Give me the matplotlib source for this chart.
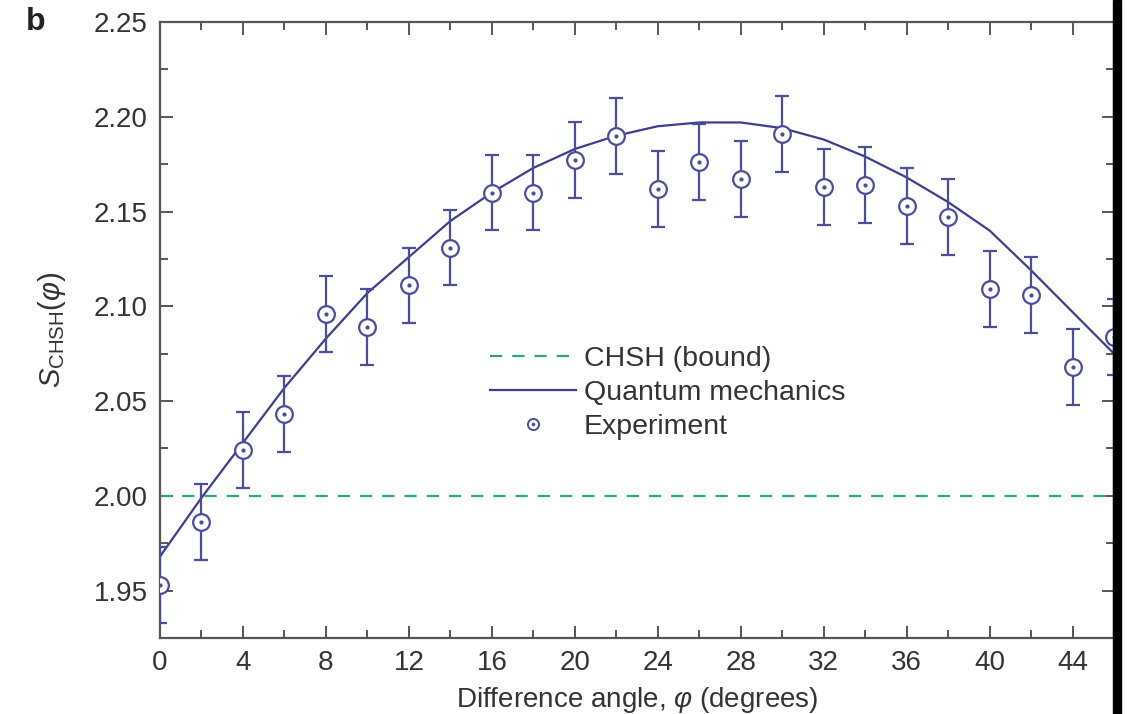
import numpy as np
import matplotlib
matplotlib.use("Agg")
import matplotlib.pyplot as plt
from matplotlib.lines import Line2D
from matplotlib.patches import Rectangle
from matplotlib.ticker import MultipleLocator

plt.rcParams['font.family'] = ['Liberation Sans', 'DejaVu Sans']
plt.rcParams['mathtext.fontset'] = 'custom'
plt.rcParams['mathtext.rm'] = 'Liberation Sans'
plt.rcParams['mathtext.it'] = 'Liberation Sans:italic'

angle_exp = [0, 2, 4, 6, 8, 10, 12, 14, 16, 18, 20, 22, 24, 26, 28, 30, 32, 34, 36, 38, 40, 42, 44, 46]
s_exp = [1.953, 1.986, 2.024, 2.043, 2.096, 2.089, 2.111, 2.131, 2.160, 2.160, 2.177, 2.190,
         2.162, 2.176, 2.167, 2.191, 2.163, 2.164, 2.153, 2.147, 2.109, 2.106, 2.068, 2.084]
s_err = [0.02] * len(angle_exp)

# Quantum mechanics prediction
angle_qm = [0, 2, 4, 6, 8, 10, 12, 14, 16, 18, 20, 22, 24, 26, 28, 30, 32, 34, 36, 38, 40, 42, 44, 46]
s_qm = [1.968, 1.999, 2.028, 2.057, 2.083, 2.107, 2.126, 2.145, 2.160, 2.173, 2.183, 2.190,
        2.195, 2.197, 2.197, 2.194, 2.188, 2.179, 2.168, 2.155, 2.140, 2.119, 2.097, 2.075]

chsh_bound = 2.0

line_col = '#3d3d8f'
err_col = '#4c4c9c'
green = '#2aa77a'
axis_col = '#555555'
text_col = '#333333'

fig = plt.figure(figsize=(11.3, 7.14), dpi=100)
ax = fig.add_axes([160 / 1130, 1 - 638 / 714, (1114 - 160) / 1130, (638 - 22) / 714])

ax.axhline(chsh_bound, color=green, lw=1.6, dashes=(5.5, 4.5), zorder=2)
ax.plot(angle_qm, s_qm, color=line_col, lw=1.6, zorder=3)
ax.errorbar(angle_exp, s_exp, yerr=s_err, fmt='none', ecolor=err_col,
            elinewidth=1.6, capsize=5, capthick=1.6, zorder=4)
ax.plot(angle_exp, s_exp, 'o', ms=12, mfc='white', mec=err_col, mew=1.6, zorder=5)
ax.plot(angle_exp, s_exp, 'o', ms=2, color=err_col, zorder=6)

ax.set_xlim(0, 46)
ax.set_ylim(1.925, 2.25)
ax.xaxis.set_major_locator(MultipleLocator(4))
ax.xaxis.set_minor_locator(MultipleLocator(2))
ax.yaxis.set_major_locator(MultipleLocator(0.05))
ax.yaxis.set_minor_locator(MultipleLocator(0.025))
ax.yaxis.set_major_formatter(matplotlib.ticker.FormatStrFormatter('%.2f'))

ax.tick_params(which='both', direction='in', top=True, right=True, color=axis_col,
               labelcolor=text_col, labelsize=20, width=1.4)
ax.tick_params(which='major', length=9, pad=9)
ax.tick_params(which='minor', length=5.5)
for sp in ax.spines.values():
    sp.set_color(axis_col)
    sp.set_linewidth(1.6)

ax.set_xlabel(r'Difference angle, $\varphi$ (degrees)', fontsize=20, color=text_col, labelpad=6)
ax.set_ylabel(r'$S_{\mathrm{CHSH}}(\varphi)$', fontsize=21, color=text_col, labelpad=18)

# legend
h_bound = Line2D([], [], color=green, lw=1.6, dashes=(5.5, 4.5))
h_qm = Line2D([], [], color=line_col, lw=1.6)
h_ring = Line2D([], [], ls='none', marker='o', ms=8, mfc='white', mec=err_col, mew=1.4)
h_dot = Line2D([], [], ls='none', marker='o', ms=1.6, color=err_col)
ax.legend([h_bound, h_qm, (h_ring, h_dot)], ['CHSH (bound)', 'Quantum mechanics', 'Experiment'],
          loc='upper left', bbox_to_anchor=(0.346, 0.474), frameon=False, fontsize=20.5,
          handlelength=3.0, handletextpad=0.3, labelspacing=0.28, borderpad=0,
          borderaxespad=0, labelcolor=text_col)

fig.text(26 / 1130, 1 - 22 / 714, 'b', fontsize=23, fontweight='bold', color='#222222',
         va='center', ha='left')

# dark edge along the right side of the scan
fig.patches.append(Rectangle((1113 / 1130, 0), 8 / 1130, 1, transform=fig.transFigure,
                             color='black', zorder=10))

fig.savefig('out.png', dpi=100)
